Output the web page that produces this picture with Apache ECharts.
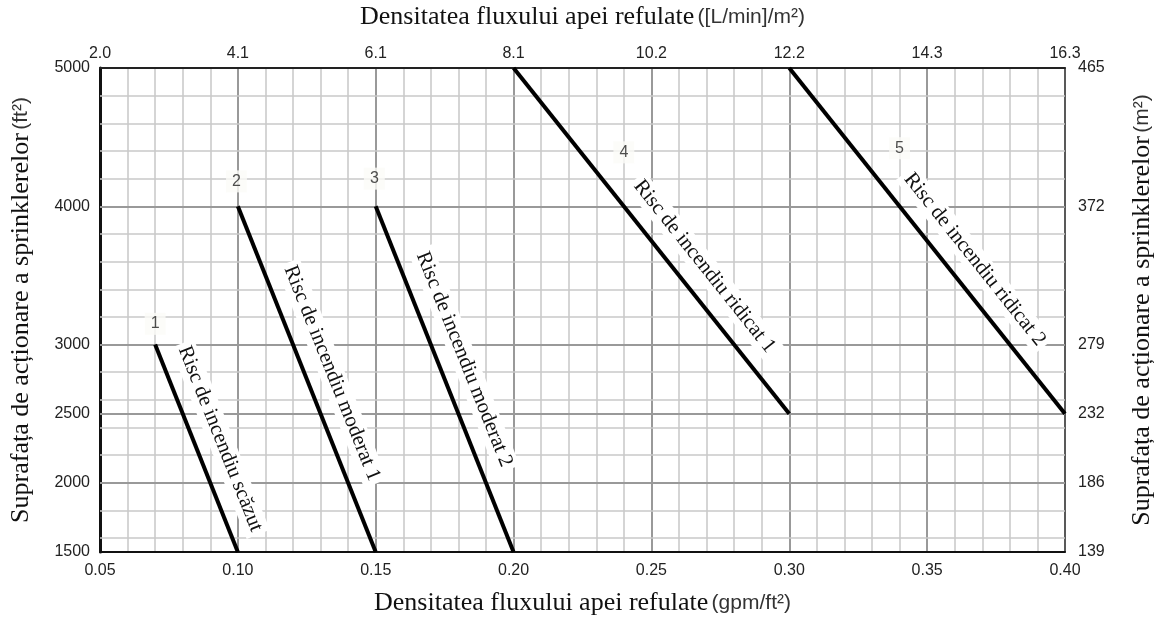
<!DOCTYPE html>
<html>
<head>
<meta charset="utf-8">
<script src="https://cdn.jsdelivr.net/npm/echarts@6/dist/echarts.min.js"></script>
<style>
html,body{margin:0;padding:0;background:#fff;}
#chart{width:1158px;height:617px;}
</style>
</head>
<body>
<div id="chart"></div>
<script>
// ---- data ----
const lineIds = ['1', '2', '3', '4', '5'];
const lineNames = [
  'Risc de incendiu scăzut',
  'Risc de incendiu moderat 1',
  'Risc de incendiu moderat 2',
  'Risc de incendiu ridicat 1',
  'Risc de incendiu ridicat 2'
];
const densityStart = [0.07, 0.10, 0.15, 0.20, 0.30];   // gpm/ft2
const areaStart    = [3000, 4000, 4000, 5000, 5000];   // ft2
const densityEnd   = [0.10, 0.15, 0.20, 0.30, 0.40];
const areaEnd      = [1500, 1500, 1500, 2500, 2500];

// annotation anchors (data space)
const numberLabelX = [0.070, 0.0995, 0.1495, 0.240, 0.340];
const numberLabelY = [3150, 4180, 4200, 4390, 4420];
const nameLabelFrac = [0.50, 0.51, 0.47, 0.62, 0.60];

// tick labels
const topTickLabels = ['2.0', '4.1', '6.1', '8.1', '10.2', '12.2', '14.3', '16.3'];
const leftTickValues = [1500, 2000, 2500, 3000, 4000, 5000];
const rightTickLabels = ['139', '186', '232', '279', '372', '465'];

// grid lines (y)
const majorGridY = [2000, 2500, 3000, 4000];
const minorGridY = [];
for (let v = 1600; v <= 4800; v += 200) if (majorGridY.indexOf(v) < 0) minorGridY.push(v);

// ---- chart ----
const serif = 'Liberation Serif';
const sans = 'Liberation Sans';
const tickStyle = { fontFamily: sans, fontSize: 16, color: '#222' };
const nameRich = {
  a: { fontFamily: serif, fontSize: 26, color: '#111' },
  b: { fontFamily: sans, fontSize: 21, color: '#333' }
};

function lerp(a, b, t) { return a + (b - a) * t; }

const riskSeries = lineNames.map((n, i) => {
  const f = nameLabelFrac[i];
  const p0 = [lerp(densityStart[i], densityEnd[i], f - 0.05), lerp(areaStart[i], areaEnd[i], f - 0.05)];
  const p1 = [lerp(densityStart[i], densityEnd[i], f + 0.05), lerp(areaStart[i], areaEnd[i], f + 0.05)];
  return {
    type: 'line',
    name: n,
    xAxisIndex: 0, yAxisIndex: 0,
    data: [[densityStart[i], areaStart[i]], [densityEnd[i], areaEnd[i]]],
    symbol: 'none',
    silent: true,
    z: 5,
    lineStyle: { color: '#000', width: 4 },
    markLine: {
      silent: true,
      symbol: 'none',
      animation: false,
      lineStyle: { color: 'rgba(0,0,0,0)', width: 0 },
      label: {
        show: true,
        position: 'insideMiddleTop',
        distance: 13,
        formatter: n,
        fontFamily: serif,
        fontSize: 21,
        color: '#111',
        backgroundColor: '#fff',
        padding: [2, 4]
      },
      data: [[{ coord: p0 }, { coord: p1 }]]
    }
  };
});

const gridSeries = {
  type: 'line',
  data: [],
  xAxisIndex: 0, yAxisIndex: 0,
  silent: true,
  z: 1,
  markLine: {
    silent: true,
    symbol: 'none',
    animation: false,
    label: { show: false },
    data: minorGridY.map(v => ({ yAxis: v, lineStyle: { color: '#c8c8c8', width: 1.5, type: 'solid' } }))
      .concat(majorGridY.map(v => ({ yAxis: v, lineStyle: { color: '#999', width: 2, type: 'solid' } })))
  }
};

const numberSeries = {
  type: 'scatter',
  xAxisIndex: 0, yAxisIndex: 0,
  data: lineIds.map((id, i) => [numberLabelX[i], numberLabelY[i]]),
  symbolSize: 0,
  silent: true,
  z: 6,
  label: {
    show: true,
    position: 'inside',
    formatter: p => lineIds[p.dataIndex],
    fontFamily: sans,
    fontSize: 16,
    color: '#222',
    backgroundColor: '#fbfbf7',
    padding: [3, 6]
  }
};

const chart = echarts.init(document.getElementById('chart'), null, { renderer: 'canvas' });
chart.setOption({
  animation: false,
  backgroundColor: '#fff',
  grid: { left: 100, right: 93, top: 68, bottom: 65, containLabel: false, outerBoundsMode: 'none' },
  xAxis: [
    {
      type: 'value', position: 'bottom', min: 0.05, max: 0.40, interval: 0.05,
      axisLine: { show: true, lineStyle: { color: '#111', width: 2 } },
      axisTick: { show: false },
      axisLabel: Object.assign({ margin: 11, formatter: v => v.toFixed(2) }, tickStyle),
      splitLine: { show: true, lineStyle: { color: '#999', width: 2 } },
      minorTick: { show: false, splitNumber: 5 },
      minorSplitLine: { show: true, lineStyle: { color: '#c8c8c8', width: 1.5 } },
      name: '{a|Densitatea fluxului apei refulate} {b|(gpm/ft²)}',
      nameLocation: 'middle', nameGap: 38,
      nameTextStyle: { rich: nameRich }
    },
    {
      type: 'value', position: 'top', min: 0.05, max: 0.40, interval: 0.05,
      axisLine: { show: true, lineStyle: { color: '#222', width: 2 } },
      axisTick: { show: false },
      axisLabel: Object.assign({ margin: 6, formatter: v => topTickLabels[Math.round((v - 0.05) / 0.05)] }, tickStyle),
      splitLine: { show: false },
      name: '{a|Densitatea fluxului apei refulate} {b|([L/min]/m²)}',
      nameLocation: 'middle', nameGap: 38,
      nameTextStyle: { rich: nameRich }
    }
  ],
  yAxis: [
    {
      type: 'value', position: 'left', min: 1500, max: 5000, interval: 500,
      axisLine: { show: true, lineStyle: { color: '#111', width: 3 } },
      axisTick: { show: false },
      axisLabel: Object.assign({ margin: 10, formatter: v => leftTickValues.indexOf(v) >= 0 ? String(v) : '' }, tickStyle),
      splitLine: { show: false },
      name: '{a|Suprafața de acționare a sprinklerelor} {b|(ft²)}',
      nameLocation: 'middle', nameRotate: 90, nameGap: 66,
      nameTextStyle: { rich: nameRich }
    },
    {
      type: 'value', position: 'right', min: 1500, max: 5000, interval: 500,
      axisLine: { show: true, lineStyle: { color: '#444', width: 1.5 } },
      axisTick: { show: false },
      axisLabel: Object.assign({ margin: 13, formatter: v => { const k = leftTickValues.indexOf(v); return k >= 0 ? rightTickLabels[k] : ''; } }, tickStyle),
      splitLine: { show: false },
      name: '{a|Suprafața de acționare a sprinklerelor} {b|(m²)}',
      nameLocation: 'middle', nameRotate: 90, nameGap: 64,
      nameTextStyle: { rich: nameRich }
    }
  ],
  series: [gridSeries].concat(riskSeries).concat([numberSeries])
});
</script>
</body>
</html>
